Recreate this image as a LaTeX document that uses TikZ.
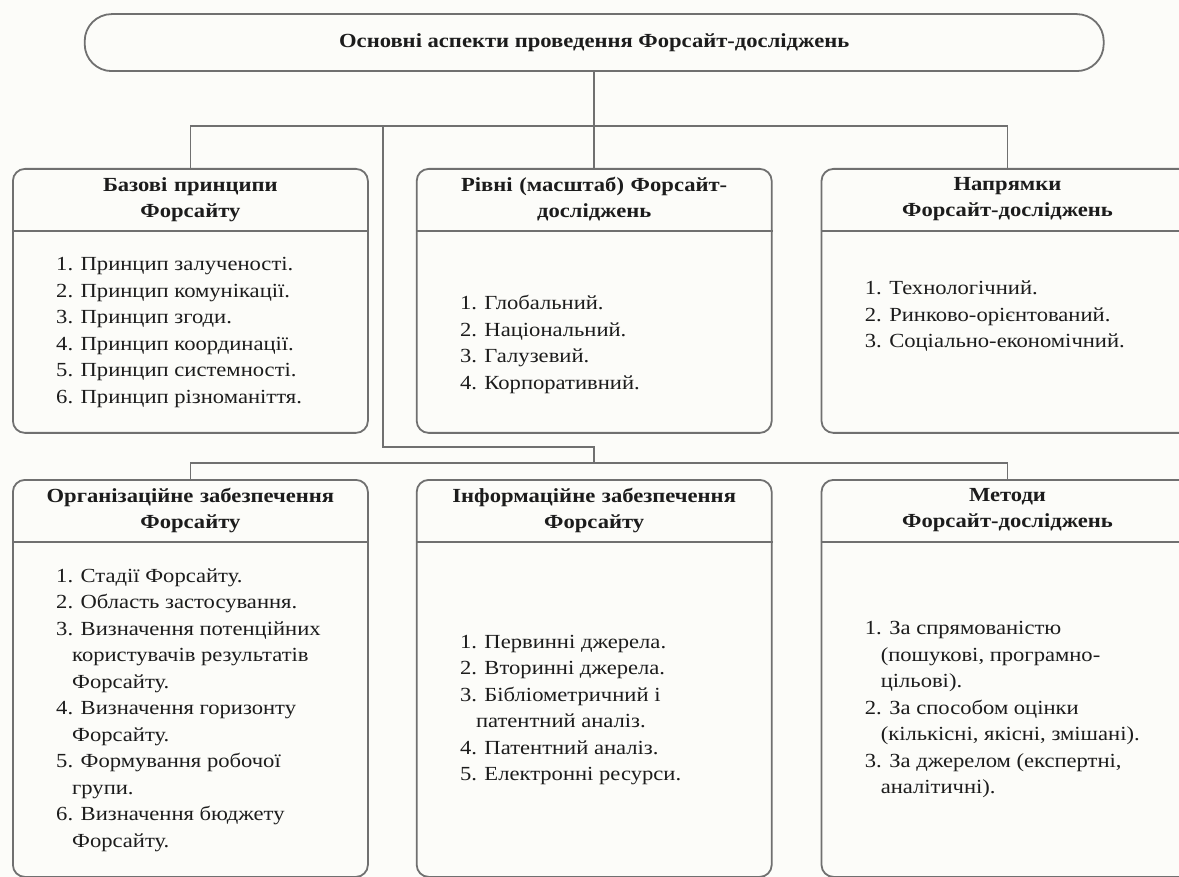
\documentclass[tikz,border=0pt]{standalone}
\usepackage{fontspec}
\setmainfont{Liberation Serif}[FakeStretch=1.13]
\usepackage{xcolor}
\usepackage{tikz}
\usetikzlibrary{positioning,calc}
\definecolor{linegray}{RGB}{112,112,112}
\definecolor{paper}{RGB}{252,252,249}
\definecolor{ink}{RGB}{28,28,28}
\newcommand{\ind}{\hspace*{0.8em}}

\begin{document}
\begin{tikzpicture}[x=1pt, y=-1pt, node distance=47pt and 47pt,
 every node/.style={font=\fontsize{20}{26.5}\selectfont, text=ink},
 link/.style={draw=linegray, line width=1.8pt},
 topbox/.style={draw=linegray, line width=1.8pt, rounded corners=27pt, minimum width=1019pt, minimum height=57pt, font=\fontsize{20}{26.5}\selectfont\bfseries},
 panel/.style={draw=linegray, line width=1.8pt, rounded corners=12pt, minimum width=355pt},
 wide/.style={minimum width=372pt},
 uprow/.style={minimum height=264pt},
 lowrow/.style={minimum height=397pt},
 head/.style={align=center, text width=345pt, minimum height=63pt, inner sep=0pt, outer sep=0pt, font=\fontsize{20}{26}\selectfont\bfseries},
 items/.style={align=left, anchor=west, inner sep=0pt}]
\useasboundingbox (0,0) rectangle (1179,877);
\clip (0,0) rectangle (1179,877);
\fill[paper] (0,0) rectangle (1179,877);

\node[panel, uprow, anchor=north west] (princ) at (12,168) {};
\node[panel, uprow, right=of princ] (lvl) {};
\node[panel, uprow, wide, right=48pt of lvl] (dir) {};
\node[topbox, above=96pt of lvl] (main) {Основні аспекти проведення Форсайт-досліджень};

\node[panel, lowrow, anchor=north west] (org) at (12,479) {};
\node[panel, lowrow, right=of org] (info) {};
\node[panel, lowrow, wide, right=48pt of info] (meth) {};

\node[head, below=0pt of princ.north] (princh) {Базові принципи\\Форсайту};
\node[head, below=0pt of lvl.north] (lvlh) {Рівні (масштаб) Форсайт-\\досліджень};
\node[head, below=0pt of dir.north] (dirh) {Напрямки\\Форсайт-досліджень};
\node[head, below=0pt of org.north] (orgh) {Організаційне забезпечення\\Форсайту};
\node[head, below=0pt of info.north] (infoh) {Інформаційне забезпечення\\Форсайту};
\node[head, below=0pt of meth.north] (methh) {Методи\\Форсайт-досліджень};
\foreach \b in {princ,lvl,dir,org,info,meth}
  \draw[link] (\b h.south -| \b.west) -- (\b h.south -| \b.east);

\node[items] (princl) at ($(princh.south -| princ.west)!.5!(princ.south west)+(44,0)$)
 {1. Принцип залученості.\\2. Принцип комунікації.\\3. Принцип згоди.\\4. Принцип координації.\\5. Принцип системності.\\6. Принцип різноманіття.};
\node[items] (lvll) at ($(lvlh.south -| lvl.west)!.5!(lvl.south west)+(44,12)$)
 {1. Глобальний.\\2. Національний.\\3. Галузевий.\\4. Корпоративний.};
\node[items] (dirl) at ($(dirh.south -| dir.west)!.5!(dir.south west)+(44,-16)$)
 {1. Технологічний.\\2. Ринково-орієнтований.\\3. Соціально-економічний.};
\node[items] (orgl) at ($(orgh.south -| org.west)!.5!(org.south west)+(44,0)$)
 {1. Стадії Форсайту.\\2. Область застосування.\\3. Визначення потенційних\\\ind користувачів результатів\\\ind Форсайту.\\4. Визначення горизонту\\\ind Форсайту.\\5. Формування робочої\\\ind групи.\\6. Визначення бюджету\\\ind Форсайту.};
\node[items] (infol) at ($(infoh.south -| info.west)!.5!(info.south west)+(44,0)$)
 {1. Первинні джерела.\\2. Вторинні джерела.\\3. Бібліометричний і\\\ind патентний аналіз.\\4. Патентний аналіз.\\5. Електронні ресурси.};
\node[items] (methl) at ($(methh.south -| meth.west)!.5!(meth.south west)+(44,0)$)
 {1. За спрямованістю\\\ind (пошукові, програмно-\\\ind цільові).\\2. За способом оцінки\\\ind (кількісні, якісні, змішані).\\3. За джерелом (експертні,\\\ind аналітичні).};

\coordinate (upbus) at (0,126);
\coordinate (drop) at (383,126);
\coordinate (kink) at (383,447);
\coordinate (lowbus) at (0,463);
\draw[link] (main.south) -- (lvl.north);
\draw[link] (princ.north) -- (princ.north |- upbus) -- (dir.north |- upbus) -- (dir.north);
\draw[link] (drop) -- (kink) -- (kink -| lvl.south) -- (lvl.south |- lowbus);
\draw[link] (org.north) -- (org.north |- lowbus) -- (meth.north |- lowbus) -- (meth.north);
\end{tikzpicture}
\end{document}
